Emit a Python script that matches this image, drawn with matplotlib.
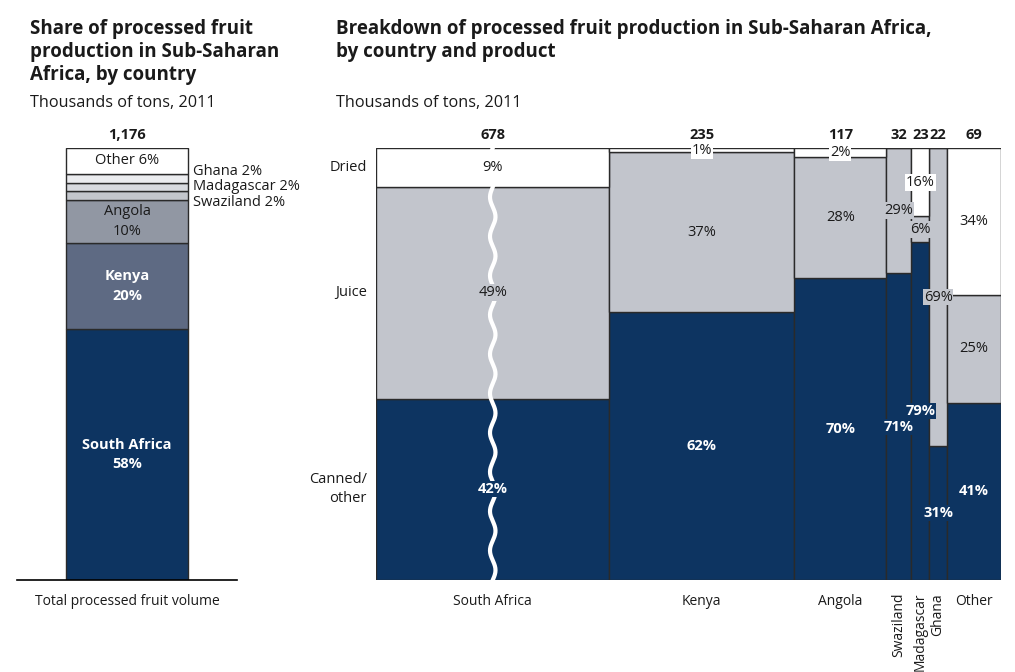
import numpy as np
import matplotlib
matplotlib.use("Agg")
import matplotlib.pyplot as plt

plt.rcParams['font.family'] = ['Open Sans', 'DejaVu Sans']

# left panel: share by country (bottom to top)
share_names = ['South Africa', 'Kenya', 'Angola', 'Swaziland', 'Madagascar', 'Ghana', 'Other']
share_pct = [58, 20, 10, 2, 2, 2, 6]
total_volume = '1,176'

# right panel: breakdown by country and product
countries = ['South Africa', 'Kenya', 'Angola', 'Swaziland', 'Madagascar', 'Ghana', 'Other']
volumes = [678, 235, 117, 32, 23, 22, 69]
canned = [42, 62, 70, 71, 79, 31, 41]
juice = [49, 37, 28, 29, 6, 69, 25]
dried = [9, 1, 2, 0, 16, 0, 34]
products = ['Canned/\nother', 'Juice', 'Dried']

W, H = 1015, 672
NAVY = '#0d3461'
JUICE = '#c2c5cc'
EDGE = '#2a2a2a'
TXT = '#1a1a1a'
share_colors = [NAVY, '#5e6a83', '#9197a3', '#c3c6cc', '#d8dadf', '#ebecef', 'white']
prod_colors = [NAVY, JUICE, 'white']


def box(x0, y0, x1, y1):
    # pixel box -> figure fraction rect
    return [x0 / W, 1 - y1 / H, (x1 - x0) / W, (y1 - y0) / H]


fig = plt.figure(figsize=(W / 100, H / 100), dpi=100)

# ---------- left panel ----------
ax1 = fig.add_axes(box(17, 148, 237, 580))
bottoms = np.concatenate([[0], np.cumsum(share_pct)[:-1]])
ax1.bar(0.5, share_pct, bottom=bottoms, width=122 / 220, color=share_colors,
        edgecolor=EDGE, linewidth=1)
ax1.set_xlim(0, 1)
ax1.set_ylim(0, 100)
ax1.axis('off')
ax1.plot([0, 1], [0, 0], color='black', lw=1.2, clip_on=False)

# small slices get their labels spread out beside the bar
mad_mid = bottoms[4] + share_pct[4] / 2
for name, p, b in zip(share_names, share_pct, bottoms):
    mid = b + p / 2
    if name in ('South Africa', 'Kenya'):
        ax1.text(0.5, mid, f'{name}\n{p}%', ha='center', va='center', color='white',
                 fontsize=10.5, fontweight='bold', linespacing=1.5)
    elif name == 'Angola':
        ax1.text(0.5, mid, f'{name}\n{p}%', ha='center', va='center', color=TXT,
                 fontsize=10.5, linespacing=1.5)
    elif name == 'Other':
        ax1.text(0.5, mid, f'{name} {p}%', ha='center', va='center', color=TXT, fontsize=10.5)
    else:
        ax1.text(0.8, mad_mid + (mid - mad_mid) * 1.75, f'{name} {p}%', ha='left',
                 va='center', color=TXT, fontsize=10.5)
ax1.text(0.5, 103, total_volume, ha='center', va='center', fontsize=10.5,
         fontweight='bold', color=TXT)
ax1.text(0.5, -5, 'Total processed fruit volume', ha='center', va='center',
         fontsize=10, color=TXT)

# ---------- right panel ----------
sa_cap = 297  # South Africa column drawn truncated (broken width)
widths = np.array([min(v, sa_cap) for v in volumes], dtype=float)
lefts = np.concatenate([[0], np.cumsum(widths)[:-1]])
centers = lefts + widths / 2

ax2 = fig.add_axes(box(376, 148, 1001, 580))
ax2.set_xlim(0, widths.sum())
ax2.set_ylim(0, 100)
ax2.axis('off')

stack = np.array([canned, juice, dried], dtype=float)
norm = stack / stack.sum(axis=0) * 100
base = np.zeros(len(countries))
for i in range(3):
    ax2.bar(lefts, norm[i], bottom=base, width=widths, align='edge',
            color=prod_colors[i], edgecolor=EDGE, linewidth=1, zorder=2)
    for j in range(len(countries)):
        v = stack[i, j]
        if v == 0:
            continue
        mid = base[j] + norm[i, j] / 2
        if i == 0:
            kw = dict(color='white', fontweight='bold')
        else:
            kw = dict(color=TXT)
        ax2.text(centers[j], mid, f'{int(v)}%', ha='center', va='center', fontsize=10.5,
                 zorder=5, bbox=dict(facecolor=prod_colors[i], edgecolor='none', pad=0.6),
                 **kw)
    base += norm[i]

# wavy break line through South Africa column
yy = np.linspace(0, 100, 400)
ax2.plot(centers[0] + 3.5 * np.sin(yy / 100 * 2 * np.pi * 11), yy, color='white',
         lw=3, zorder=4, clip_on=False)

for c, v, name in zip(centers, volumes, countries):
    ax2.text(c, 103, str(v), ha='center', va='center', fontsize=10.5,
             fontweight='bold', color=TXT)
    if name in ('Swaziland', 'Madagascar', 'Ghana'):
        ax2.text(c, -3, name, ha='center', va='top', rotation=90, fontsize=10, color=TXT)
    else:
        ax2.text(c, -5, name, ha='center', va='center', fontsize=10, color=TXT)

# product row labels
row_y = [canned[0] / 2, canned[0] + juice[0] / 2, 100 - dried[0] / 2]
for lab, y in zip(products, row_y):
    ax2.text(-9 / 625 * widths.sum(), y, lab, ha='right', va='center', fontsize=10.5,
             color=TXT, multialignment='right', linespacing=1.35)

# ---------- titles ----------
fig.text(30 / W, 1 - 19 / H, 'Share of processed fruit\nproduction in Sub-Saharan\nAfrica, by country',
         ha='left', va='top', fontsize=13.5, fontweight='bold', color=TXT, linespacing=1.2)
fig.text(30 / W, 1 - 103 / H, 'Thousands of tons, 2011', ha='left', va='center',
         fontsize=11.7, color=TXT)
fig.text(336 / W, 1 - 19 / H,
         'Breakdown of processed fruit production in Sub-Saharan Africa,\nby country and product',
         ha='left', va='top', fontsize=13.5, fontweight='bold', color=TXT, linespacing=1.2)
fig.text(336 / W, 1 - 103 / H, 'Thousands of tons, 2011', ha='left', va='center',
         fontsize=11.7, color=TXT)

fig.savefig('out.png', dpi=100)
